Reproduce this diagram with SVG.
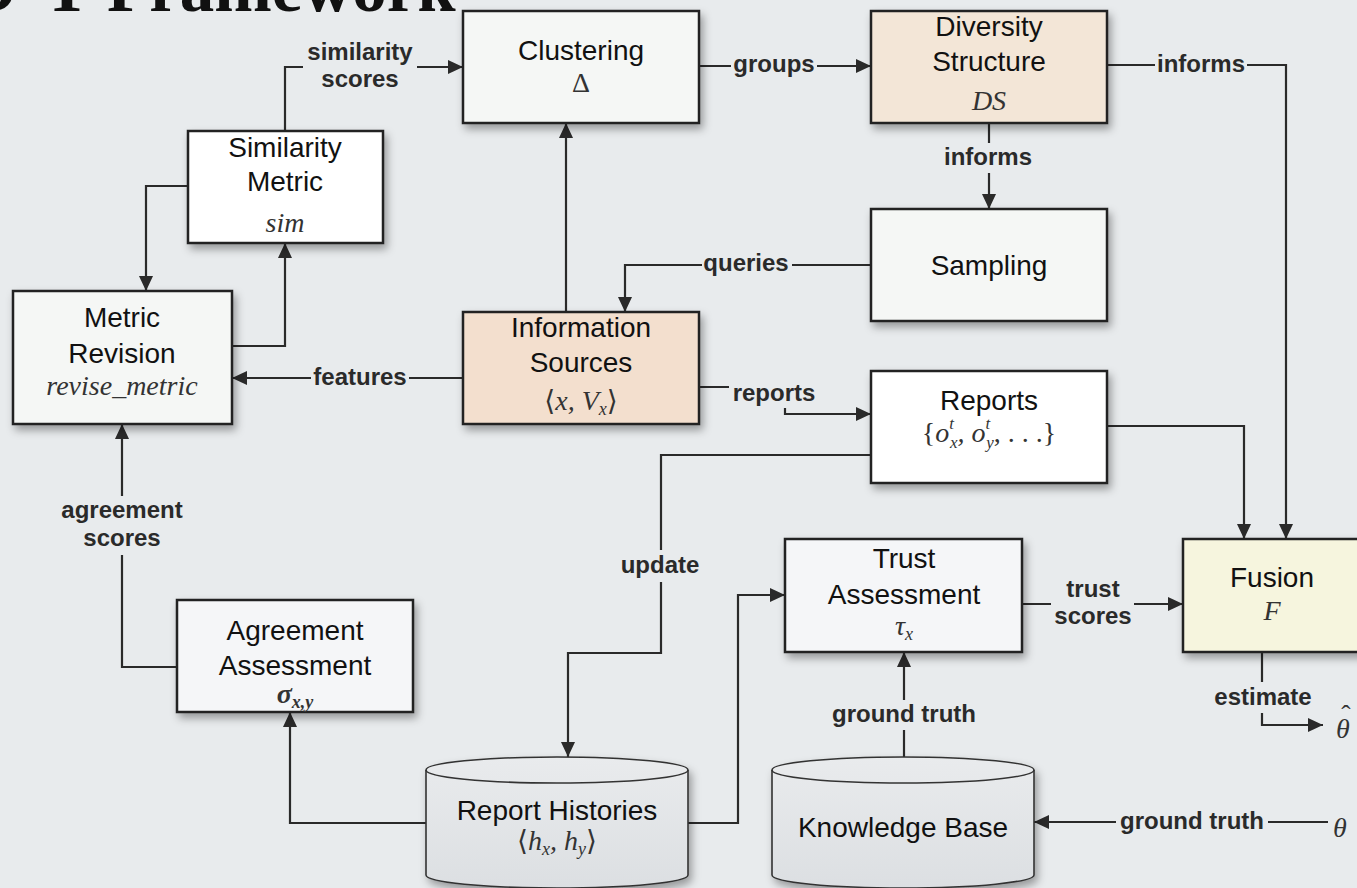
<svg xmlns="http://www.w3.org/2000/svg" width="1357" height="888" viewBox="0 0 1357 888">
<defs>
<style>
.t{font-family:"Liberation Sans",Arial,sans-serif;font-size:28px;fill:#111;text-anchor:middle}
.lbl{font-family:"Liberation Sans",Arial,sans-serif;font-weight:bold;font-size:24px;fill:#2a2a2a;text-anchor:middle}
.m{font-family:"Liberation Serif","DejaVu Serif",serif;font-style:italic;font-size:28px;fill:#333;text-anchor:middle}
.up{font-style:normal}
.box{stroke:#222;stroke-width:2.5}
.cyl{stroke:#333;stroke-width:1.6}
.edge{fill:none;stroke:#2a2a2a;stroke-width:2.2;marker-end:url(#arr)}
.lb{fill:#e8ebed}
</style>
<marker id="arr" markerUnits="userSpaceOnUse" markerWidth="16" markerHeight="14" refX="15" refY="7" orient="auto">
<path d="M0,0 L15,7 L0,14 Z" fill="#2a2a2a"/>
</marker>
<filter id="sh" x="-10%" y="-10%" width="130%" height="145%">
<feDropShadow dx="3" dy="5" stdDeviation="4" flood-color="#000" flood-opacity="0.35"/>
</filter>
<linearGradient id="cg" x1="0" y1="0" x2="0" y2="1">
<stop offset="0" stop-color="#e9ebed"/>
<stop offset="1" stop-color="#dcdfe2"/>
</linearGradient>
</defs>
<rect width="1357" height="888" fill="#e8ebed"/>

<text font-family="'Liberation Serif','Times New Roman',serif" font-weight="bold" font-size="69" fill="#111" y="11"><tspan x="-33">D</tspan><tspan x="44">T</tspan><tspan x="107">Framework</tspan></text>

<g id="connectors">
<path class="edge" d="M285,131 V67 H463"/>
<path class="edge" d="M699,66 H871"/>
<path class="edge" d="M1107,65 H1286 V539"/>
<path class="edge" d="M989,123 V209"/>
<path class="edge" d="M871,265 H625 V312"/>
<path class="edge" d="M566,312 V123"/>
<path class="edge" d="M463,378 H232"/>
<path class="edge" d="M232,346 H285 V243"/>
<path class="edge" d="M188,186 H146 V291"/>
<path class="edge" d="M699,387 H785 V414 H871"/>
<path class="edge" d="M1107,426 H1244 V539"/>
<path class="edge" d="M871,455 H661 V653 H568 V757"/>
<path class="edge" d="M688,823 H738 V595 H785"/>
<path class="edge" d="M426,823 H290 V712"/>
<path class="edge" d="M177,667 H122 V424"/>
<path class="edge" d="M904,757 V652"/>
<path class="edge" d="M1022,604 H1183"/>
<path class="edge" d="M1328,822 H1034"/>
<path class="edge" d="M1262,652 V725 H1323"/>

<rect class="lb" x="303" y="40" width="114" height="55"/>
<text class="lbl" x="360" y="60">similarity</text>
<text class="lbl" x="360" y="87">scores</text>
<rect class="lb" x="731" y="54" width="86" height="26"/>
<text class="lbl" x="774" y="72">groups</text>
<rect class="lb" x="1155" y="52" width="92" height="26"/>
<text class="lbl" x="1201" y="72">informs</text>
<rect class="lb" x="942" y="143" width="94" height="30"/>
<text class="lbl" x="988" y="165">informs</text>
<rect class="lb" x="702" y="252" width="90" height="28"/>
<text class="lbl" x="746" y="271">queries</text>
<rect class="lb" x="311" y="365" width="98" height="28"/>
<text class="lbl" x="360" y="385">features</text>
<rect class="lb" x="729" y="381" width="90" height="27"/>
<text class="lbl" x="774" y="401">reports</text>
<rect class="lb" x="618" y="550" width="86" height="32"/>
<text class="lbl" x="660" y="573">update</text>
<rect class="lb" x="58" y="496" width="128" height="59"/>
<text class="lbl" x="122" y="518">agreement</text>
<text class="lbl" x="122" y="546">scores</text>
<rect class="lb" x="828" y="700" width="152" height="30"/>
<text class="lbl" x="904" y="722">ground truth</text>
<rect class="lb" x="1116" y="808" width="152" height="28"/>
<text class="lbl" x="1192" y="829">ground truth</text>
<rect class="lb" x="1051" y="575" width="83" height="57"/>
<text class="lbl" x="1093" y="597">trust</text>
<text class="lbl" x="1093" y="624">scores</text>
<rect class="lb" x="1212" y="682" width="104" height="31"/>
<text class="lbl" x="1263" y="705">estimate</text>
</g>

<g id="clustering">
<rect class="box" x="463" y="11" width="236" height="112" fill="#f5f7f5" filter="url(#sh)"/>
<text class="t" x="581" y="60">Clustering</text>
<text class="m up" x="581" y="92">Δ</text>
</g>

<g id="similarity-metric">
<rect class="box" x="188" y="131" width="195" height="112" fill="#ffffff" filter="url(#sh)"/>
<text class="t" x="285" y="157">Similarity</text>
<text class="t" x="285" y="191">Metric</text>
<text class="m" x="285" y="232">sim</text>
</g>

<g id="metric-revision">
<rect class="box" x="13" y="291" width="219" height="133" fill="#f5f7f5" filter="url(#sh)"/>
<text class="t" x="122" y="327">Metric</text>
<text class="t" x="122" y="363">Revision</text>
<text class="m" x="122" y="395">revise_metric</text>
</g>

<g id="information-sources">
<rect class="box" x="463" y="312" width="236" height="112" fill="#f3dfce" filter="url(#sh)"/>
<text class="t" x="581" y="337">Information</text>
<text class="t" x="581" y="372">Sources</text>
<text class="m" x="581" y="410" fill="#444"><tspan class="up">⟨</tspan>x, V<tspan font-size="18" dy="5">x</tspan><tspan class="up" dy="-5">⟩</tspan></text>
</g>

<g id="diversity-structure">
<rect class="box" x="871" y="11" width="236" height="112" fill="#f3e6d7" filter="url(#sh)"/>
<text class="t" x="989" y="36">Diversity</text>
<text class="t" x="989" y="71">Structure</text>
<text class="m" x="989" y="110">DS</text>
</g>

<g id="sampling">
<rect class="box" x="871" y="209" width="236" height="112" fill="#f5f7f5" filter="url(#sh)"/>
<text class="t" x="989" y="275">Sampling</text>
</g>

<g id="reports">
<rect class="box" x="871" y="371" width="236" height="112" fill="#ffffff" filter="url(#sh)"/>
<text class="t" x="989" y="410">Reports</text>
<text class="m" x="989" y="442" fill="#444"><tspan class="up">{</tspan>o<tspan font-size="17" dy="-13">t</tspan><tspan font-size="17" dx="-4" dy="19">x</tspan><tspan dy="-6">, o</tspan><tspan font-size="17" dy="-13">t</tspan><tspan font-size="17" dx="-4" dy="19">y</tspan><tspan dy="-6" class="up">, . . .</tspan><tspan class="up">}</tspan></text>
</g>

<g id="trust-assessment">
<rect class="box" x="785" y="539" width="237" height="113" fill="#f5f6f8" filter="url(#sh)"/>
<text class="t" x="904" y="568">Trust</text>
<text class="t" x="904" y="604">Assessment</text>
<text class="m" x="904" y="635" fill="#444">τ<tspan font-size="18" dy="5">x</tspan></text>
</g>

<g id="fusion">
<rect class="box" x="1183" y="539" width="180" height="113" fill="#f6f5de" filter="url(#sh)"/>
<text class="t" x="1272" y="587">Fusion</text>
<text class="m" x="1272" y="620">F</text>
</g>

<g id="agreement-assessment">
<rect class="box" x="177" y="600" width="236" height="112" fill="#f5f6f8" filter="url(#sh)"/>
<text class="t" x="295" y="640">Agreement</text>
<text class="t" x="295" y="675">Assessment</text>
<text class="m" x="295" y="703" font-weight="bold" fill="#222">σ<tspan font-size="18" dy="5">x,y</tspan></text>
</g>

<g id="report-histories">
<path class="cyl" d="M426,770 A131,13 0 0 1 688,770 V875 A131,13 0 0 1 426,875 Z" fill="url(#cg)" filter="url(#sh)"/>
<path class="cyl" d="M426,770 A131,13 0 0 0 688,770" fill="none"/>
<text class="t" x="557" y="820">Report Histories</text>
<text class="m" x="557" y="850" fill="#8a8a8a"><tspan class="up">⟨</tspan>h<tspan font-size="18" dy="5">x</tspan><tspan dy="-5">, h</tspan><tspan font-size="18" dy="5">y</tspan><tspan class="up" dy="-5">⟩</tspan></text>
</g>

<g id="knowledge-base">
<path class="cyl" d="M772,770 A131,13 0 0 1 1034,770 V875 A131,13 0 0 1 772,875 Z" fill="url(#cg)" filter="url(#sh)"/>
<path class="cyl" d="M772,770 A131,13 0 0 0 1034,770" fill="none"/>
<text class="t" x="903" y="837">Knowledge Base</text>
</g>

<g id="theta-hat">
<text class="m" x="1343" y="738" font-size="36" fill="#777">θ</text>
<text class="m up" x="1346" y="724" font-size="30" fill="#777">ˆ</text>
</g>

<g id="theta">
<text class="m" x="1340" y="837" font-size="36" fill="#777">θ</text>
</g>
</svg>
